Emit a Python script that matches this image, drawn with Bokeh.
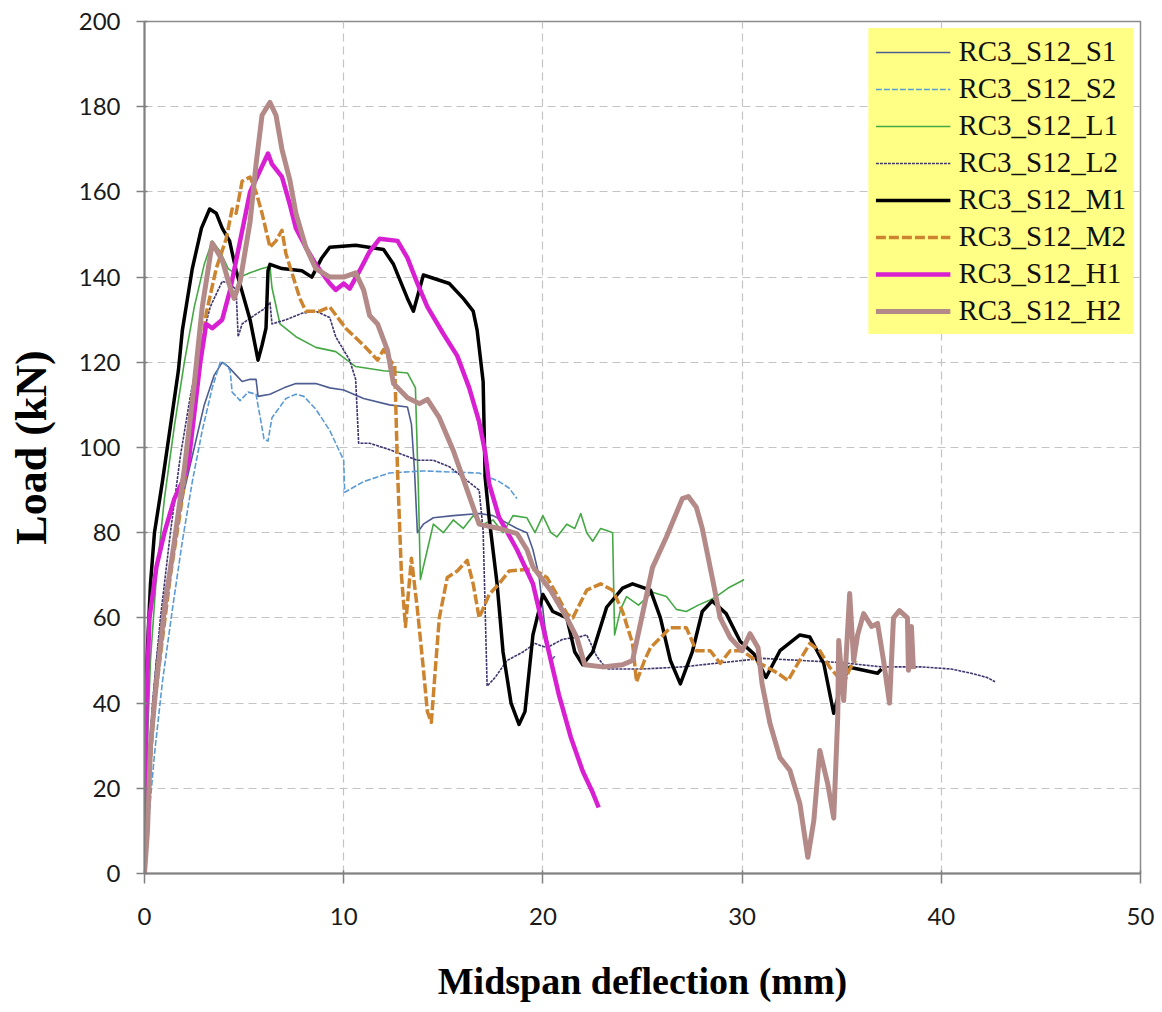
from bokeh.plotting import figure
from bokeh.models import Range1d, FixedTicker, Legend, LegendItem
from bokeh.embed import file_html
from bokeh.resources import INLINE

# ---------------- data ----------------
names = ["RC3_S12_S1", "RC3_S12_S2", "RC3_S12_L1", "RC3_S12_L2",
         "RC3_S12_M1", "RC3_S12_M2", "RC3_S12_H1", "RC3_S12_H2"]

s1_x = [0, 0.1, 0.25, 0.6, 1.0, 1.5, 2.0, 2.5, 3.0, 3.5, 3.9, 4.2, 4.6, 4.9, 5.3, 5.6, 5.7, 6.3, 7.0,
        7.6, 8.6, 9.3, 10, 11, 12.3, 13.2, 13.4, 13.55, 13.7, 14.0, 14.5, 15.5, 16.8, 17.5, 18.7,
        19.2, 19.5, 19.8, 20.1, 20.4, 20.6]
s1_y = [0, 15, 30, 50, 65, 78, 90, 100, 110, 117, 120, 119, 117, 115.5, 116, 116, 112, 112.5, 114,
        115, 115, 114, 113.5, 111.5, 110, 109.5, 105.5, 95, 80, 82, 83.5, 84, 84.5, 84, 81,
        80, 76, 70, 58, 50, 51]

s2_x = [0, 0.2, 0.5, 0.9, 1.4, 1.9, 2.4, 2.9, 3.4, 3.8, 4.1, 4.3, 4.4, 4.8, 5.2, 5.6, 6.0, 6.2, 6.4,
        7.1, 7.6, 8.0, 8.6, 9.3, 10.0, 10.05, 11, 12.3, 14, 16.8, 17.8, 18.3, 18.7]
s2_y = [0, 12, 28, 45, 62, 78, 92, 104, 114, 120, 119.5, 118, 113, 111, 113, 112.5, 102, 101.5, 107,
        111.5, 112.5, 112, 109, 104, 97, 89.5, 92, 94, 94.5, 94, 92, 90.5, 88]

l1_x = [0, 0.1, 0.3, 0.6, 1.0, 1.5, 2.0, 2.5, 3.0, 3.4, 3.8, 4.2, 4.8, 5.3, 5.9, 6.3, 6.4, 6.8, 7.6,
        8.6, 9.6, 10.6, 12, 13.2, 13.6, 13.75, 13.85, 14.2, 14.5, 15, 15.5, 16, 16.5, 17, 17.5, 18,
        18.5, 19.2, 19.6, 20, 20.4, 20.7, 21.2, 21.6, 21.9, 22.2, 22.5, 22.9, 23.2, 23.5, 23.6, 23.9,
        24.2, 24.8, 25.5, 26.2, 26.7, 27.2, 27.8, 28.3, 28.7, 29.3, 29.9, 30.1]
l1_y = [0, 25, 50, 70, 88, 105, 120, 133, 143, 148.5, 146, 142, 140, 141, 142, 142.5, 137.5, 129, 126,
        123.5, 122.5, 119, 118, 117.5, 114, 90, 69, 76, 82, 80, 83, 81, 84, 82, 83, 80,
        84, 83.5, 80, 84, 80, 79, 82, 81, 84.5, 80, 78, 81, 80.5, 80, 56, 62,
        65, 63, 66, 65, 62, 61.5, 63, 64, 65, 67, 68.5, 69]

l2_x = [0, 0.15, 0.4, 0.8, 1.3, 1.8, 2.3, 2.8, 3.3, 3.9, 4.3, 4.6, 4.7, 4.9, 5.5, 6.0, 6.3, 6.4, 7.1,
        7.9, 8.6, 9.3, 9.6, 10.3, 10.6, 10.75, 11.3, 12.3, 13.7, 14.5, 15.3, 16.8, 17.0, 17.2, 17.6,
        18.2, 19, 19.6, 20.2, 21, 21.8, 22.2, 22.7, 23.2, 25, 27, 29, 31, 33, 35, 37, 39, 40.5, 41.5,
        42.3, 42.7]
l2_y = [0, 20, 40, 60, 80, 98, 112, 124, 133, 139, 138.5, 137, 126, 129, 131, 132.5, 134, 129, 130,
        131.5, 132, 130.5, 126, 120.5, 116, 101, 101, 99.5, 97, 97, 95.5, 90, 80.5, 44, 46,
        50, 52, 54, 53, 55, 55.5, 56, 51, 48, 48, 48.5, 49.5, 50.5, 50, 49.5, 48.5, 48.5, 48, 47,
        46, 45]

m1_x = [0, 0.05, 0.12, 0.3, 0.5, 0.9, 1.3, 1.7, 1.9, 2.4, 2.86, 3.27, 3.6, 3.9, 4.27, 4.6, 5.3, 5.7,
        5.9, 6.1, 6.2, 6.3, 6.9, 7.9, 8.4, 8.9, 9.3, 10.6, 12, 12.5, 13.2, 13.5, 14, 15.3, 16, 16.5,
        16.7, 17, 17.1, 17.3, 17.7, 18, 18.4, 18.8, 19.1, 19.5, 20, 20.5, 21.2, 21.6, 22.0, 22.5,
        23.2, 24.0, 24.5, 25.4, 25.9, 26.4, 26.9, 27.5, 28, 28.5, 29.2, 29.9, 30.6, 31.2, 31.9,
        32.9, 33.4, 34.1, 34.6, 35.0, 35.4, 36.1, 36.8, 37.0]
m1_y = [0, 30, 50, 68, 80, 92, 105, 118, 127.5, 142, 151.5, 156, 155, 151.5, 148.5, 141.5, 130, 120.5,
        124, 128, 141.5, 143, 142, 141.5, 140, 144.5, 147, 147.5, 146.5, 143, 135, 132, 140.5, 138.5,
        135, 132, 127.5, 115.5, 93, 83.5, 68, 52, 40, 35, 38, 56, 65.5, 61.5, 60, 52, 49, 52,
        62.5, 67, 68, 66.5, 60, 50, 44.5, 52, 61.5, 64, 61, 54.5, 51.5, 46, 52.3,
        56, 55.5, 49.3, 37.6, 45, 48.4, 47.7, 47, 48]

m2_x = [0, 0.2, 0.5, 0.9, 1.3, 1.8, 2.3, 2.7, 3.1, 3.6, 4.1, 4.4, 4.6, 4.9, 5.3, 5.6, 5.9, 6.3, 6.6,
        6.9, 7.1, 7.4, 7.8, 8.1, 8.8, 9.3, 10.1, 11, 11.7, 12, 12.4, 12.56, 12.7, 12.9, 13.1, 13.4,
        13.7, 14.0, 14.2, 14.4, 14.6, 14.8, 15.2, 15.7, 16.2, 16.5, 16.8, 17.3, 17.8, 18.3, 19.5,
        20.2, 20.7, 21.2, 21.5, 22.2, 22.9, 23.5, 24, 24.5, 24.7, 25.1, 25.4, 26.4, 27.2, 27.7,
        28.4, 28.9, 29.4, 30, 30.9, 31.8, 32.3, 32.8, 33.4, 33.9, 34.4, 35.1, 35.4, 35.7]
m2_y = [0, 20, 40, 55, 70, 85, 102, 117, 131.5, 142, 149, 156, 155, 162.5, 163.5, 160, 155, 147, 148.5,
        151, 145.5, 141, 135, 132, 132, 133, 128, 124, 120.5, 123, 120, 119.5, 95, 70, 58, 74,
        62, 48, 38, 35.5, 48, 60, 69.5, 71, 73.5, 68, 60, 65.5, 68, 71, 71.5,
        69.5, 65.5, 61, 60, 66.5, 68, 66.5, 61.5, 54, 45, 50, 53, 57.7, 57.7, 52.3,
        52.3, 49.3, 52.3, 52.3, 49.3, 47, 45.3, 49.3, 54, 52.3, 48.4, 44.6, 48, 50]

h1_x = [0, 0.1, 0.25, 0.6, 1.0, 1.5, 1.9, 2.2, 2.5, 2.8, 3.1, 3.4, 3.9, 4.3, 4.8, 5.3, 5.8, 6.2, 6.4,
        6.9, 7.3, 7.6, 8.1, 8.6, 9.3, 9.6, 10, 10.3, 10.8, 11.3, 11.8, 12.7, 13.2, 13.7, 14.2, 15,
        15.7, 16.3, 16.8, 17.1, 17.3, 17.8, 18.7, 19.5, 20.2, 20.8, 21.4, 22.0, 22.5, 22.8]
h1_y = [0, 40, 60, 72, 80, 88, 92, 96, 108, 120, 129, 128, 130, 137, 148.5, 160, 165, 169, 166.5,
        163.5, 157, 151.5, 147, 143, 138.5, 137, 138.5, 137.3, 141.5, 146, 149, 148.5, 144.5, 138.5,
        133, 126.7, 121.5, 114, 106, 99, 91.5, 83.6, 76, 68, 54, 42, 32, 24, 19, 15.5]

h2_x = [0, 0.15, 0.3, 0.6, 1.0, 1.5, 2.0, 2.5, 2.9, 3.4, 3.9, 4.3, 4.5, 4.8, 5.3, 5.6, 5.9, 6.3, 6.6,
        6.9, 7.3, 7.6, 8.1, 8.6, 9.3, 10, 10.6, 11, 11.3, 11.7, 12.2, 12.5, 13.2, 13.8, 14.2, 14.8,
        15.5, 16.2, 16.8, 17.8, 18.7, 19.2, 19.5, 20.4, 21.2, 21.7, 22.1, 23, 24, 24.5, 25.5, 26.2,
        27, 27.3, 27.7, 28, 28.5, 28.9, 29.4, 30, 30.4, 30.8, 31, 31.4, 31.9, 32.4, 32.9, 33.3,
        33.6, 33.9, 34.3, 34.6, 34.8, 34.85, 35.1, 35.4, 35.6, 35.8, 36.1, 36.5, 36.8, 37.1, 37.4,
        37.6, 37.9, 38.3, 38.35, 38.5, 38.6]
h2_y = [0, 10, 30, 45, 62, 78, 95, 115, 133, 148, 144, 137.6, 135, 139, 153, 166.5, 178, 181, 178,
        170, 162.7, 155, 147, 142, 140, 140, 141, 137, 131, 129, 122.8, 115, 111.7, 110.3, 111.3, 107,
        99.3, 90, 82, 81, 79.8, 76, 72, 66.4, 60, 55.4, 49, 48.5, 49, 50, 71.8, 79,
        88, 88.5, 86, 81, 69.5, 60, 55.4, 52.3, 56.3, 53, 44.6, 35.2, 27.2, 24.2, 16.4, 3.8,
        12.4, 28.9, 21, 13, 36.6, 54.7, 40.6, 65.7, 50, 56, 61, 58, 58.7, 50, 40,
        60, 61.7, 60, 47.7, 58, 48]

xs = [s1_x, s2_x, l1_x, l2_x, m1_x, m2_x, h1_x, h2_x]
ys = [s1_y, s2_y, l1_y, l2_y, m1_y, m2_y, h1_y, h2_y]

x_ticks = [0, 10, 20, 30, 40, 50]
y_ticks = [0, 20, 40, 60, 80, 100, 120, 140, 160, 180, 200]

# ---------------- styles ----------------
colors = ["#4e5d91", "#5b9bd5", "#45a845", "#40356e", "#000000", "#cd842f", "#d81fd2", "#b38a87"]
widths = [1.6, 1.6, 1.6, 1.6, 3.5, 3.5, 4.5, 5.0]
dashes = ["solid", "6 2", "solid", "3 1", "solid", "10 3", "solid", "solid"]

p = figure(width=1162, height=1012, x_range=Range1d(0, 50), y_range=Range1d(0, 200),
           output_backend="svg", toolbar_location=None,
           min_border_left=144, min_border_right=22, min_border_top=21, min_border_bottom=139,
           background_fill_color="white", border_fill_color="white")

renderers = []
for x, y, c, w, d in zip(xs, ys, colors, widths, dashes):
    r = p.line(x, y, line_color=c, line_width=w, line_dash=d, line_join="round")
    renderers.append(r)

# axes
p.xaxis.ticker = FixedTicker(ticks=x_ticks)
p.yaxis.ticker = FixedTicker(ticks=y_ticks)
p.xaxis.axis_label = "Midspan deflection (mm)"
p.yaxis.axis_label = "Load (kN)"
for ax in (p.xaxis, p.yaxis):
    ax.axis_label_text_font = "Liberation Serif"
    ax.axis_label_text_font_style = "bold"
    ax.axis_label_text_color = "black"
    ax.major_label_text_font = "Lato"
    ax.major_label_text_font_size = "24px"
    ax.major_label_text_color = "#1a1a1a"
    ax.axis_line_color = "#808080"
    ax.axis_line_width = 2
    ax.major_tick_line_color = "#808080"
    ax.major_tick_line_width = 1.5
    ax.minor_tick_line_color = None
p.xaxis.axis_label_text_font_size = "38px"
p.yaxis.axis_label_text_font_size = "44px"
p.xaxis.major_tick_out = 10
p.xaxis.major_tick_in = 3
p.yaxis.major_tick_out = 8
p.yaxis.major_tick_in = 3
p.xaxis.major_label_standoff = 24
p.yaxis.major_label_standoff = 16
p.xaxis.axis_label_standoff = 32
p.yaxis.axis_label_standoff = 20

# grid
for g in (p.xgrid, p.ygrid):
    g.grid_line_color = "#c4c4c4"
    g.grid_line_dash = "8 5"
    g.grid_line_width = 1.2

p.outline_line_color = "#8c8c8c"
p.outline_line_width = 1.5

# legend
items = [LegendItem(label=n, renderers=[r]) for n, r in zip(names, renderers)]
legend = Legend(items=items, location="top_right",
                background_fill_color="#ffff85", background_fill_alpha=1.0,
                border_line_alpha=0,
                label_text_font="Liberation Serif", label_text_font_size="29px",
                label_text_color="#111111",
                glyph_width=75, glyph_height=30, label_height=30,
                spacing=4, padding=7, margin=7, label_standoff=8)
p.add_layout(legend)

open("out.html", "w").write(file_html(p, INLINE))
